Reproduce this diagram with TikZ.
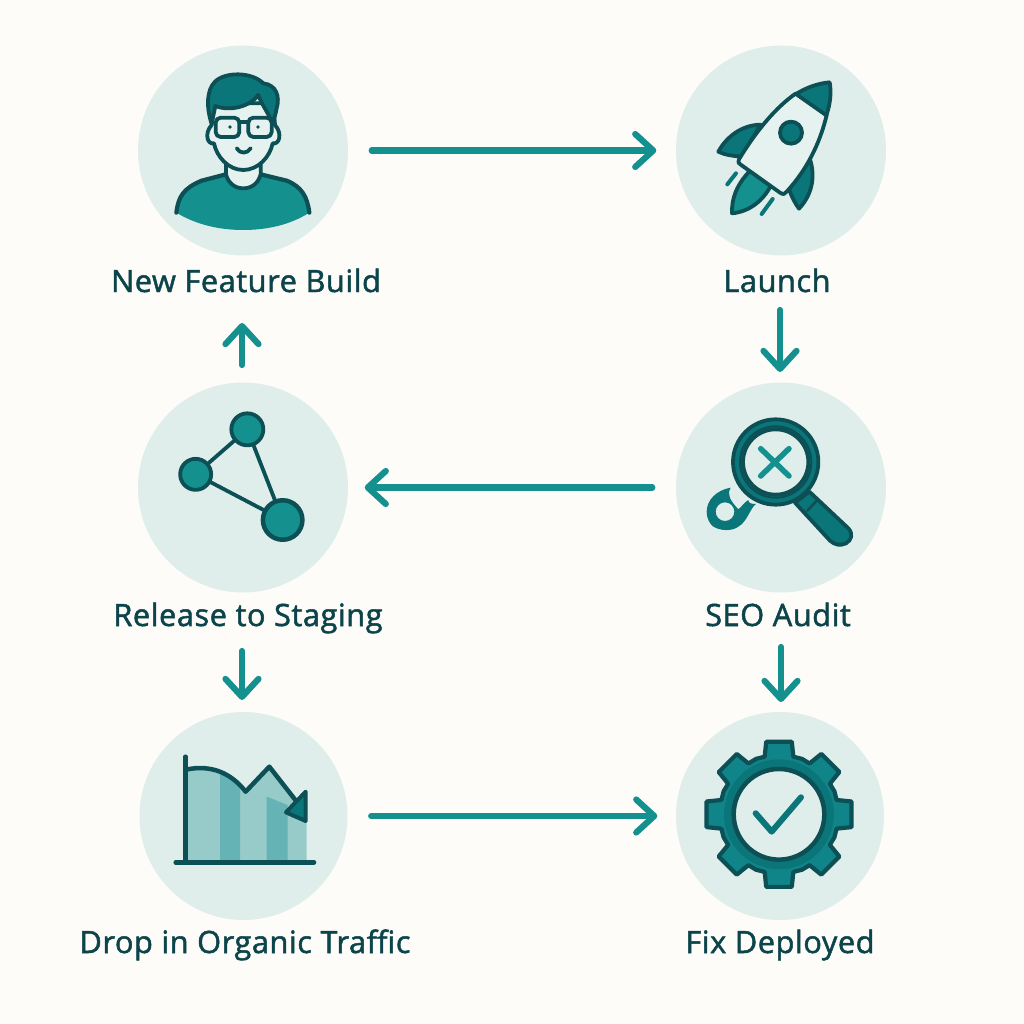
\documentclass[tikz,border=0pt]{standalone}
\usepackage{fontspec}
\setmainfont{Open Sans}[FakeBold=1.6,LetterSpace=1.8]
\usetikzlibrary{arrows.meta}
\definecolor{tbg}{HTML}{FEFCF8}
\definecolor{tdisc}{HTML}{DFEEEB}
\definecolor{tface}{HTML}{E6F2EF}
\definecolor{tteal}{HTML}{14908F}
\definecolor{tgear}{HTML}{108589}
\definecolor{tmid}{HTML}{0B767A}
\definecolor{tdark}{HTML}{0C4F55}
\definecolor{ttext}{HTML}{0B444A}
\definecolor{tbarlight}{HTML}{97CBC9}
\definecolor{tbardark}{HTML}{65B3B5}
\tikzset{
    stagedisc/.style={circle,fill=tdisc,inner sep=0pt,minimum size=21mm},
    stagelabel/.style={anchor=base,text=ttext,font=\fontsize{8.75}{10}\selectfont,inner sep=0pt},
    flow/.style={draw=tteal,line width=0.62mm,line cap=round,
        -{Straight Barb[length=1.8mm,width=3.3mm,line width=0.62mm,round]}},
    inkline/.style={draw=tdark,line width=0.38mm,line join=round,line cap=round},
    inkmid/.style={inkline,fill=tmid},
    inkteal/.style={inkline,fill=tteal},
    inkface/.style={inkline,fill=tface},
    netdot/.style={circle,inkteal,inner sep=0pt},
    icon/.style={scale=1/3}
}
\begin{document}
\begin{tikzpicture}[x=0.1mm,y=-0.1mm]
    \fill[tbg] (0,0) rectangle (1024,1024);
    % discs
    \node[stagedisc] (build) at (243,150.5) {};
    \node[stagedisc] (launch) at (781,150.5) {};
    \node[stagedisc] (staging) at (243,487.5) {};
    \node[stagedisc] (audit) at (781,487.5) {};
    \node[stagedisc,minimum size=20.8mm] (drop) at (243.5,816) {};
    \node[stagedisc,minimum size=20.8mm] (fix) at (780,816) {};
    % labels
    \node[stagelabel] (buildlabel) at (246,292) {New Feature Build};
    \node[stagelabel] (launchlabel) at (777,292) {Launch};
    \node[stagelabel] (staginglabel) at (248,626) {Release to Staging};
    \node[stagelabel] (auditlabel) at (778,626) {SEO Audit};
    \node[stagelabel] (droplabel) at (245,953) {Drop in Organic Traffic};
    \node[stagelabel] (fixlabel) at (780,953) {Fix Deployed};
    % arrows
    \draw[flow,shorten <=2.3mm,shorten >=1.9mm] (build) -- (launch);
    \draw[flow,shorten <=2.3mm,shorten >=1.6mm] (audit) -- (staging);
    \draw[flow,shorten <=2.3mm,shorten >=1.8mm] (drop) -- (fix);
    \draw[flow] (242,365) coordinate (upstart) -- (242,323) coordinate (upend);
    \draw[flow] (780,310) coordinate (launchout) -- (780,372) coordinate (auditin);
    \draw[flow] (781,647) coordinate (auditout) -- (781,702) coordinate (fixin);
    \draw[flow] (242,651) coordinate (stagingout) -- (242,700) coordinate (dropin);
    % person
    \begin{scope}[shift={(130,40)},icon]
        \fill[tteal] (139,518) .. controls (145,470) and (160,445) .. (215,422)
            -- (288,403) -- (392,403) -- (470,422)
            .. controls (515,440) and (532,470) .. (538,518)
            .. controls (480,555) and (410,570) .. (340,570)
            .. controls (270,570) and (200,555) .. (139,518);
        \draw[inkline,line width=0.42mm] (139,518) .. controls (145,470) and (160,445) .. (215,422)
            -- (288,403) (392,403) -- (470,422)
            .. controls (515,440) and (532,470) .. (538,518);
        \draw[inkface] (288,365) -- (288,403) .. controls (295,430) and (315,445) .. (340,445)
            .. controls (365,445) and (385,430) .. (392,403) -- (392,365) -- cycle;
        \draw[inkface] (252,310) .. controls (232,315) and (222,280) .. (245,255)
            -- (250,190) -- (430,190) -- (435,255)
            .. controls (458,280) and (448,315) .. (428,310)
            .. controls (420,350) and (385,390) .. (340,390)
            .. controls (295,390) and (260,350) .. (252,310) -- cycle;
        \draw[inkmid] (245,252) .. controls (228,200) and (230,150) .. (255,125)
            .. controls (285,95) and (365,95) .. (400,130)
            .. controls (440,135) and (450,170) .. (440,205)
            .. controls (437,225) and (430,240) .. (427,252)
            .. controls (420,225) and (395,195) .. (385,165)
            .. controls (360,200) and (300,215) .. (256,198) -- cycle;
        \draw[inkline,rounded corners=0.5mm,fill=tface] (257,233) rectangle (328,291);
        \draw[inkline,rounded corners=0.5mm,fill=tface] (355,233) rectangle (425,291);
        \draw[inkline] (328,246) -- (355,246);
        \fill[tdark] (300,261) circle (5.5) (384,261) circle (5.5);
        \draw[inkline] (320,325) .. controls (330,342) and (352,342) .. (362,325);
    \end{scope}
    % rocket
    \begin{scope}[shift={(670,40)},icon]
        \draw[inkteal] (240,392) .. controls (195,440) and (185,480) .. (186,520)
            .. controls (240,515) and (280,480) .. (302,438) -- cycle;
        \draw[inkmid] (272,254) .. controls (215,255) and (170,290) .. (145,335)
            .. controls (165,345) and (190,348) .. (215,350) -- cycle;
        \draw[inkmid] (420,358) .. controls (435,405) and (430,460) .. (387,506)
            .. controls (375,490) and (365,470) .. (357,448) -- cycle;
        \draw[inkface] (378,160) .. controls (320,200) and (260,270) .. (207,358)
            .. controls (203,368) and (207,372) .. (215,376) -- (330,458)
            .. controls (340,465) and (345,462) .. (350,455)
            .. controls (410,390) and (450,310) .. (470,225) -- cycle;
        \draw[inkmid] (378,162) .. controls (410,142) and (445,130) .. (479,127)
            .. controls (485,160) and (480,195) .. (469,226) -- cycle;
        \draw[inkmid] (363,278) circle (33);
        \draw[inkline,draw=tmid,line width=0.4mm] (172,433) -- (198,400);
        \draw[inkline,draw=tmid,line width=0.4mm] (275,522) -- (308,477);
    \end{scope}
    % magnifier
    \begin{scope}[shift={(670,380)},icon]
        \draw[inkmid] (418,335) -- (535,445) .. controls (550,462) and (545,480) .. (528,490)
            .. controls (510,498) and (495,495) .. (480,482) -- (375,368) -- cycle;
        \draw[inkline,line width=0.25mm] (412,392) -- (440,362);
        \fill[tmid,even odd rule] (110,395) .. controls (110,360) and (140,330) .. (182,323)
            .. controls (170,345) and (180,360) .. (205,388)
            .. controls (215,380) and (225,365) .. (235,360)
            .. controls (235,370) and (245,372) .. (258,372)
            .. controls (240,385) and (232,425) .. (205,440)
            .. controls (185,455) and (150,452) .. (130,440)
            .. controls (118,430) and (110,415) .. (110,395)
            (165,395) circle (28);
        \draw[inkmid] (317,246) circle (128);
        \draw[inkface,fill=tdisc] (317,246) circle (98);
        \draw[tdark,line width=0.2mm] (317,246) circle (107);
        \draw[draw=tteal,line width=0.55mm,line cap=round] (272,206) -- (357,288) (357,206) -- (272,288);
    \end{scope}
    % network
    \begin{scope}[shift={(130,380)},icon]
        \node[netdot,minimum size=3.2mm] (nettop) at (352,148) {};
        \node[netdot,minimum size=3.1mm] (netleft) at (197,283) {};
        \node[netdot,minimum size=3.95mm,line width=0.45mm] (netright) at (458,420) {};
        \draw[inkline] (nettop) -- (netleft);
        \draw[inkline] (nettop) -- (netright);
        \draw[inkline] (netleft) -- (netright);
    \end{scope}
    % chart
    \begin{scope}[shift={(130,710)},icon]
        \fill[tbarlight] (172,178) .. controls (205,172) and (240,175) .. (270,190) -- (270,450) -- (172,450) -- cycle;
        \fill[tbardark] (270,190) .. controls (295,200) and (318,220) .. (332,232) -- (332,450) -- (270,450) -- cycle;
        \fill[tbarlight] (332,232) -- (347,245) -- (418,170) -- (498,272) -- (530,320) -- (530,450) -- (332,450) -- cycle;
        \fill[tbardark] (410,260) -- (473,285) -- (473,450) -- (410,450) -- cycle;
        \draw[inkline,line width=0.45mm] (172,178) .. controls (240,165) and (300,185) .. (347,245)
            -- (418,170) -- (500,275);
        \draw[inkline,fill=tmid,line width=0.4mm] (527,245) -- (527,333) -- (468,307) -- cycle;
        \draw[inkline,line width=0.45mm] (166,140) -- (166,457);
        \draw[inkline,line width=0.45mm] (137,457) -- (552,457);
    \end{scope}
    % gear
    \begin{scope}[shift={(779,814.3)},icon]
        \draw[inkline,fill=tgear,line width=0.42mm] (-14:178)
            \foreach \a in {0,45,...,315} {
                -- (\a-14:178) -- (\a-10:221) -- (\a+10:221) -- (\a+14:178) -- (\a+22.5:180)
            } -- cycle;
        \fill[tmid] (0,0) circle (165);
        \draw[tdark,fill=tdisc,line width=0.45mm] (0,0) circle (136);
        \draw[draw=tmid,line width=0.6mm,line cap=round,line join=round] (-70,-3) -- (-22,52) -- (66,-51);
    \end{scope}
\end{tikzpicture}
\end{document}
